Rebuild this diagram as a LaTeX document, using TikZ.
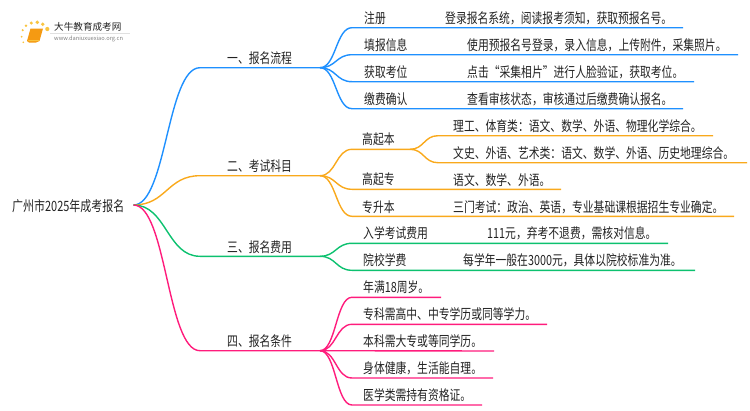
\documentclass[tikz,border=0pt]{standalone}
\usepackage{fontspec}
\setmainfont[FakeStretch=0.772]{Noto Sans CJK SC}
\newfontfamily\logofont{Noto Sans CJK SC}
\usetikzlibrary{positioning}
\definecolor{bluebr}{HTML}{1E90FF}
\definecolor{orangebr}{HTML}{F9A91C}
\definecolor{greenbr}{HTML}{0CC16F}
\definecolor{pinkbr}{HTML}{FF1C7C}
\definecolor{inkgray}{HTML}{222222}
\definecolor{logodot}{HTML}{F9C440}
\definecolor{logobook}{HTML}{F59A12}
\tikzset{
  txt/.style={inner sep=0pt, anchor=west, text=inkgray, font=\fontsize{14}{14}\selectfont},
  bluel/.style={bluebr, line width=1.4pt},
  orangel/.style={orangebr, line width=1.4pt},
  greenl/.style={greenbr, line width=1.4pt},
  pinkl/.style={pinkbr, line width=1.4pt},
}
\begin{document}
\begin{tikzpicture}[x=1pt, y=-1pt]
  \useasboundingbox (0,0) rectangle (750,410);

  % Logo
  \fill[logobook] (27,41) -- (30.5,28.5) -- (43,28.5) -- (39.5,41) .. controls (38,42.5) .. (36,42.5) -- (29,42.5) -- cycle;
  \fill[logodot] (28.5,40) -- (39,40) -- (38.6,41) -- (28.2,41) -- cycle;
  \fill[logodot] (47.3,29) circle (2.1);
  \fill[logodot] (42.7,24.2) circle (1.9);
  \fill[logodot] (37.3,22.3) circle (1.9);
  \fill[logodot] (31.3,23) circle (1.7);
  \fill[logodot] (26,25.7) circle (1.4);
  \fill[logodot] (22.7,30.2) circle (1.2);
  \fill[logodot] (21.7,36.7) circle (1);
  \fill[logodot] (23.3,42.3) circle (0.9);
  \node[txt, font=\logofont\fontsize{9.6}{9.6}\selectfont] (logoname) at (54,27) {大牛教育成考网};
  \node[txt, text=gray, font=\logofont\fontsize{5.7}{5.7}\selectfont] (logourl) at (54,38.7) {www.daniuxuexiao.org.cn};
  \draw[black!12, line width=0.6pt] (50,33.5) -- (130,33.5);

  % Root
  \node[txt, font=\fontsize{14.2}{14.2}\selectfont] (root) at (12,206) {广州市2025年成考报名};
  \coordinate (hub) at (133.5,205);

  % First level
  \coordinate (oneA) at (200,67.7);
  \coordinate (oneB) at (320,67.7);
  \coordinate (twoA) at (200,175.7);
  \coordinate (twoB) at (320,175.7);
  \coordinate (threeA) at (200,256.3);
  \coordinate (threeB) at (320,256.3);
  \coordinate (fourA) at (200,350.7);
  \coordinate (fourB) at (320,350.7);
  \draw[bluel] (hub) .. controls +(33,0) and +(-33,0) .. (oneA) -- (oneB);
  \draw[orangel] (hub) .. controls +(33,0) and +(-33,0) .. (twoA) -- (twoB);
  \draw[greenl] (hub) .. controls +(33,0) and +(-33,0) .. (threeA) -- (threeB);
  \draw[pinkl] (hub) .. controls +(33,0) and +(-33,0) .. (fourA) -- (fourB);
  \node[txt] (one) at (227,58) {一、报名流程};
  \node[txt] (two) at (227,166) {二、考试科目};
  \node[txt] (three) at (227,247) {三、报名费用};
  \node[txt] (four) at (227,341) {四、报名条件};

  % Blue leaves
  \coordinate (regA) at (352,27.7);
  \coordinate (regB) at (683,27.7);
  \coordinate (fillA) at (352,54.7);
  \coordinate (fillB) at (738,54.7);
  \coordinate (seatA) at (352,81.7);
  \coordinate (seatB) at (694,81.7);
  \coordinate (payA) at (352,108.7);
  \coordinate (payB) at (683,108.7);
  \draw[bluel] (oneB) .. controls +(16,0) and +(-16,0) .. (regA) -- (regB);
  \draw[bluel] (oneB) .. controls +(16,0) and +(-16,0) .. (fillA) -- (fillB);
  \draw[bluel] (oneB) .. controls +(16,0) and +(-16,0) .. (seatA) -- (seatB);
  \draw[bluel] (oneB) .. controls +(16,0) and +(-16,0) .. (payA) -- (payB);
  \node[txt] (reg) at (364,18) {注册};
  \node[txt] (fill) at (364,45) {填报信息};
  \node[txt] (seat) at (364,72) {获取考位};
  \node[txt] (pay) at (364,99) {缴费确认};
  \node[txt] (regtxt) at (445,18) {登录报名系统，阅读报考须知，获取预报名号。};
  \node[txt] (filltxt) at (467,45) {使用预报名号登录，录入信息，上传附件，采集照片。};
  \node[txt] (seattxt) at (467,72) {点击“采集相片”进行人脸验证，获取考位。};
  \node[txt] (paytxt) at (467,99) {查看审核状态，审核通过后缴费确认报名。};

  % Orange leaves
  \coordinate (benA) at (352,149.3);
  \coordinate (benB) at (410,149.3);
  \coordinate (zhuanA) at (352,189.3);
  \coordinate (zhuanB) at (561,189.3);
  \coordinate (shengA) at (352,216.3);
  \coordinate (shengB) at (734,216.3);
  \coordinate (sciA) at (438,135.7);
  \coordinate (sciB) at (713,135.7);
  \coordinate (artA) at (438,162.7);
  \coordinate (artB) at (747,162.7);
  \draw[orangel] (twoB) .. controls +(16,0) and +(-16,0) .. (benA) -- (benB);
  \draw[orangel] (twoB) .. controls +(16,0) and +(-16,0) .. (zhuanA) -- (zhuanB);
  \draw[orangel] (twoB) .. controls +(16,0) and +(-16,0) .. (shengA) -- (shengB);
  \draw[orangel] (benB) .. controls +(14,0) and +(-14,0) .. (sciA) -- (sciB);
  \draw[orangel] (benB) .. controls +(14,0) and +(-14,0) .. (artA) -- (artB);
  \node[txt] (ben) at (362,139) {高起本};
  \node[txt] (zhuan) at (362,179) {高起专};
  \node[txt] (sheng) at (362,207) {专升本};
  \node[txt] (sci) at (453,126) {理工、体育类：语文、数学、外语、物理化学综合。};
  \node[txt] (art) at (453,153) {文史、外语、艺术类：语文、数学、外语、历史地理综合。};
  \node[txt] (zhuantxt) at (453,180) {语文、数学、外语。};
  \node[txt] (shengtxt) at (453,207) {三门考试：政治、英语，专业基础课根据招生专业确定。};

  % Green leaves
  \coordinate (examA) at (352,243.3);
  \coordinate (examB) at (668,243.3);
  \coordinate (tuitA) at (352,270.3);
  \coordinate (tuitB) at (695,270.3);
  \draw[greenl] (threeB) .. controls +(16,0) and +(-16,0) .. (examA) -- (examB);
  \draw[greenl] (threeB) .. controls +(16,0) and +(-16,0) .. (tuitA) -- (tuitB);
  \node[txt] (exam) at (363,233) {入学考试费用};
  \node[txt] (tuit) at (363,260) {院校学费};
  \node[txt] (examtxt) at (487,233) {111元，弃考不退费，需核对信息。};
  \node[txt] (tuittxt) at (463,260) {每学年一般在3000元，具体以院校标准为准。};

  % Pink leaves
  \coordinate (ageA) at (352,297.3);
  \coordinate (ageB) at (441,297.3);
  \coordinate (colA) at (352,324.3);
  \coordinate (colB) at (547,324.3);
  \coordinate (uniB) at (494,351);
  \coordinate (bodyA) at (352,378);
  \coordinate (bodyB) at (493,378);
  \coordinate (medA) at (352,405);
  \coordinate (medB) at (482,405);
  \draw[pinkl] (fourB) .. controls +(16,0) and +(-16,0) .. (ageA) -- (ageB);
  \draw[pinkl] (fourB) .. controls +(16,0) and +(-16,0) .. (colA) -- (colB);
  \draw[pinkl] (fourB) -- (uniB);
  \draw[pinkl] (fourB) .. controls +(16,0) and +(-16,0) .. (bodyA) -- (bodyB);
  \draw[pinkl] (fourB) .. controls +(16,0) and +(-16,0) .. (medA) -- (medB);
  \node[txt] (age) at (363,287) {年满18周岁。};
  \node[txt] (col) at (363,314) {专科需高中、中专学历或同等学力。};
  \node[txt] (uni) at (363,341) {本科需大专或等同学历。};
  \node[txt] (body) at (363,368) {身体健康，生活能自理。};
  \node[txt] (med) at (363,395) {医学类需持有资格证。};
\end{tikzpicture}
\end{document}
